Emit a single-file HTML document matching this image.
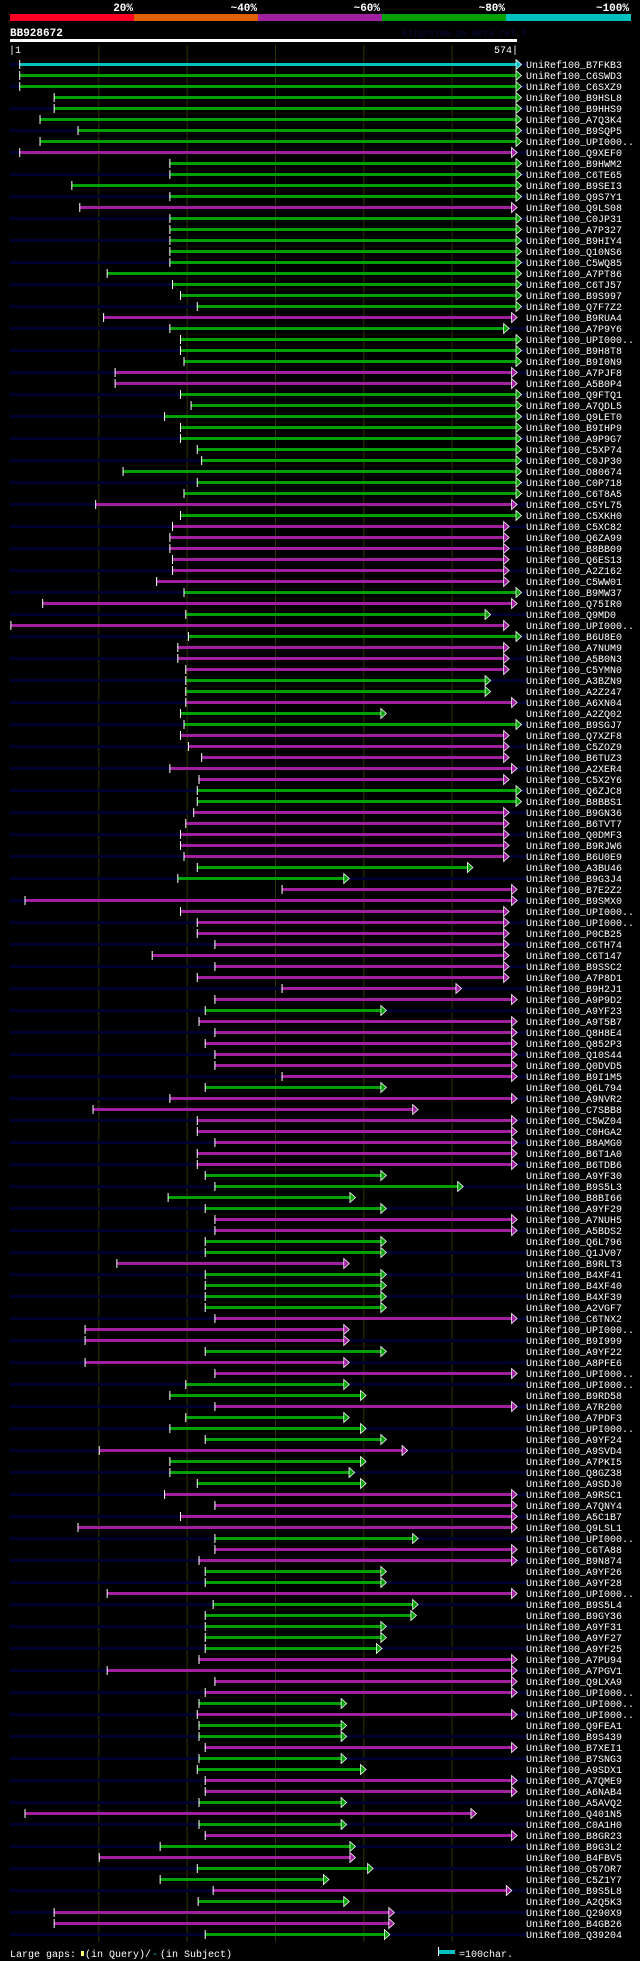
<!DOCTYPE html>
<html><head><meta charset="utf-8"><title>BB928672 alignment</title>
<style>
html,body{margin:0;padding:0;background:#000;}
svg{display:block;}
text{font-family:"Liberation Mono",monospace;}
</style></head>
<body>
<svg id="chart" width="640" height="1961" viewBox="0 0 640 1961" xmlns="http://www.w3.org/2000/svg">
<rect x="0" y="0" width="640" height="1961" fill="#000"/>
<g>
<text x="133" y="11" text-anchor="end" fill="#fff" font-size="11" font-weight="bold">20%</text>
<text x="257" y="11" text-anchor="end" fill="#fff" font-size="11" font-weight="bold">~40%</text>
<text x="380" y="11" text-anchor="end" fill="#fff" font-size="11" font-weight="bold">~60%</text>
<text x="505" y="11" text-anchor="end" fill="#fff" font-size="11" font-weight="bold">~80%</text>
<text x="629" y="11" text-anchor="end" fill="#fff" font-size="11" font-weight="bold">~100%</text>
<rect x="10" y="14" width="124" height="7" fill="#ff0022"/>
<rect x="134" y="14" width="124" height="7" fill="#e06000"/>
<rect x="258" y="14" width="124" height="7" fill="#a020a0"/>
<rect x="382" y="14" width="124" height="7" fill="#00a000"/>
<rect x="506" y="14" width="125" height="7" fill="#00c0c0"/>
</g>
<text x="10" y="36" fill="#fff" font-size="11" font-weight="bold">BB928672</text>
<text x="402" y="36" fill="#0a0a40" font-size="9">AlignView.pm Beta rel.7</text>
<rect x="10" y="39" width="507" height="3" fill="#fff"/>
<text x="9" y="53" fill="#fff" font-size="10">|1</text>
<text x="518" y="53" fill="#fff" font-size="10" text-anchor="end">574|</text>
<g id="grid"></g>
<g id="rows"></g>
<g>
<text x="10" y="1957" fill="#fff" font-size="10">Large gaps:</text>
<rect x="81" y="1951" width="3" height="5" fill="#ffff66"/>
<text x="85" y="1957" fill="#fff" font-size="10">(in Query)/</text>
<text x="152" y="1957" fill="#00c0c0" font-size="10">-</text>
<text x="160" y="1957" fill="#fff" font-size="10">(in Subject)</text>
<rect x="439" y="1950" width="16" height="4" fill="#00c0c0"/>
<rect x="438" y="1947" width="1" height="9" fill="#fff"/>
<text x="459" y="1957" fill="#fff" font-size="10">=100char.</text>
</g>
</svg>
<script>
const names = ["B7FKB3","C6SWD3","C6SXZ9","B9HSL8","B9HHS9","A7Q3K4","B9SQP5","UPI000..","Q9XEF0","B9HWM2",
"C6TE65","B9SEI3","Q9S7Y1","Q9LS08","C0JP31","A7P327","B9HIY4","Q10NS6","C5WQ85","A7PT86",
"C6TJ57","B9S997","Q7F7Z2","B9RUA4","A7P9Y6","UPI000..","B9H8T8","B9I0N9","A7PJF8","A5B0P4",
"Q9FTQ1","A7QDL5","Q9LET0","B9IHP9","A9P9G7","C5XP74","C0JP30","O80674","C0P718","C6T8A5",
"C5YL75","C5XKH0","C5XC82","Q6ZA99","B8BB09","Q6ES13","A2Z162","C5WW01","B9MW37","Q75IR0",
"Q9MD0","UPI000..","B6U8E0","A7NUM9","A5B0N3","C5YMN0","A3BZN9","A2Z247","A6XN04","A2ZQ02",
"B9SGJ7","Q7XZF8","C5ZOZ9","B6TUZ3","A2XER4","C5X2Y6","Q6ZJC8","B8BBS1","B9GN36","B6TVT7",
"Q0DMF3","B9RJW6","B6U0E9","A3BU46","B9G3J4","B7E2Z2","B9SMX0","UPI000..","UPI000..","P0CB25",
"C6TH74","C6T147","B9SSC2","A7P8D1","B9H2J1","A9P9D2","A9YF23","A9T5B7","Q8H8E4","Q852P3",
"Q10S44","Q0DVD5","B9I1M5","Q6L794","A9NVR2","C7SBB8","C5WZ04","C0HGA2","B8AMG0","B6T1A0",
"B6TDB6","A9YF30","B9S5L3","B8BI66","A9YF29","A7NUH5","A5BDS2","Q6L796","Q1JV07","B9RLT3",
"B4XF41","B4XF40","B4XF39","A2VGF7","C6TNX2","UPI000..","B9I999","A9YF22","A8PFE6","UPI000..",
"UPI000..","B9RD58","A7R200","A7PDF3","UPI000..","A9YF24","A9SVD4","A7PKI5","Q8GZ38","A9SDJ0",
"A9RSC1","A7QNY4","A5C1B7","Q9LSL1","UPI000..","C6TA88","B9N874","A9YF26","A9YF28","UPI000..",
"B9S5L4","B9GY36","A9YF31","A9YF27","A9YF25","A7PU94","A7PGV1","Q9LXA9","UPI000..","UPI000..",
"UPI000..","Q9FEA1","B9S439","B7XEI1","B7SNG3","A9SDX1","A7QME9","A6NAB4","A5AVQ2","Q401N5",
"C0A1H0","B8GR23","B9G3L2","B4FBV5","O57OR7","C5Z1Y7","B9S5L8","A2Q5K3","Q290X9","B4GB26","Q39204"];
const starts = [11,11,11,50,50,34,77,34,11,181, 181,70,181,79,181,181,181,181,181,110,
184,193,212,106,181,193,193,197,119,119, 193,205,175,193,193,212,217,128,212,197,
97,193,184,181,181,184,184,166,197,37, 199,1,202,190,190,199,199,199,199,193,
197,193,202,217,181,214,212,212,208,199, 193,193,197,212,190,308,17,193,212,212,
232,161,232,212,308,232,221,214,232,221, 232,232,308,221,181,94,212,212,232,212,
212,221,232,179,221,232,232,221,221,121, 221,221,221,221,232,85,85,221,85,232,
199,181,232,199,181,221,101,181,181,212, 175,232,193,77,232,232,214,221,221,110,
230,221,221,221,221,214,110,232,221,214, 212,214,214,221,214,212,221,221,214,17,
214,221,170,101,212,170,230,213,50,50,221];
const ends = [574,574,574,574,574,574,574,574,569,574, 574,574,574,569,574,574,574,574,574,574,
574,574,574,569,560,574,574,574,569,569, 574,574,574,574,574,574,574,574,574,574,
569,574,560,560,560,560,560,560,574,569, 539,560,574,560,560,560,539,539,569,421,
574,560,560,560,569,560,574,574,560,560, 560,560,560,519,379,569,569,560,560,560,
560,560,560,560,506,569,421,569,569,569, 569,569,569,421,569,457,569,569,569,569,
569,421,508,386,421,569,569,421,421,379, 421,421,421,421,569,379,379,421,379,569,
379,398,569,379,398,421,445,398,385,398, 569,569,569,569,457,569,569,421,421,569,
457,455,421,421,416,569,569,569,569,376, 569,376,376,569,376,398,569,569,376,523,
376,569,386,386,406,356,563,379,430,430,425];
const identity = ["c","g","g","g","g","g","g","g","m","g", "g","g","g","m","g","g","g","g","g","g",
"g","g","g","m","g","g","g","g","m","m", "g","g","g","g","g","g","g","g","g","g",
"m","g","m","m","m","m","m","m","g","m", "g","m","g","m","m","m","g","g","m","g",
"g","m","m","m","m","m","g","g","m","m", "m","m","m","g","g","m","m","m","m","m",
"m","m","m","m","m","m","g","m","m","m", "m","m","m","g","m","m","m","m","m","m",
"m","g","g","g","g","m","m","g","g","m", "g","g","g","g","m","m","m","g","m","m",
"g","g","m","g","g","g","m","g","g","g", "m","m","m","m","g","m","m","g","g","m",
"g","g","g","g","g","m","m","m","m","g", "m","g","g","m","g","g","m","m","g","m",
"g","m","g","m","g","g","m","g","m","m","g"];
const gridTicks = [100,200,300,400,500];

const NS = "http://www.w3.org/2000/svg";
const X0 = 10, X1 = 517, QLEN = 574;
function xScale(p){ return X0 + p * (X1 - X0) / QLEN; }
function yRow(i){ return 64.3 + i * 11; }
const colors = {c:"#00c0c0", g:"#00a000", m:"#a020a0"};
function mk(tag, attrs){ const e=document.createElementNS(NS,tag); for(const k in attrs) e.setAttribute(k,attrs[k]); return e; }

const grid = document.getElementById("grid");
gridTicks.forEach(t=>{
  const l = mk("line",{x1:xScale(t)+0.5,x2:xScale(t)+0.5,y1:45,y2:1942,stroke:"#333300","stroke-width":1});
  
  
  grid.appendChild(l);
});

const rows = document.getElementById("rows");
names.forEach((n,i)=>{
  const y = Math.round(yRow(i));
  const g = mk("g",{});
  
  
  if(i % 2 === 0){
    const s = mk("rect",{x:X0,y:y-1,width:517,height:3,fill:"#00002e"});
    
    
    g.appendChild(s);
  }
  const c = colors[identity[i]];
  const xs = xScale(starts[i]), xe = xScale(ends[i]);
  const bar = mk("rect",{x:xs,y:y-1,width:Math.max(1,xe-xs),height:3,fill:c});
  
  
  g.appendChild(bar);
  const tick = mk("rect",{x:xs-0.5,y:y-4,width:1,height:9,fill:"#fff"});
  
  
  g.appendChild(tick);
  const tri = mk("polygon",{points:`${xe-1},${y-4.5} ${xe+4.5},${y+0.5} ${xe-1},${y+5.5}`,fill:c,stroke:"#fff","stroke-width":0.8});
  
  
  g.appendChild(tri);
  const t = mk("text",{x:526,y:y+4,fill:"#fff","font-size":10});
  t.textContent = "UniRef100_" + n;
  
  
  g.appendChild(t);
  rows.appendChild(g);
});
</script>
</body></html>
